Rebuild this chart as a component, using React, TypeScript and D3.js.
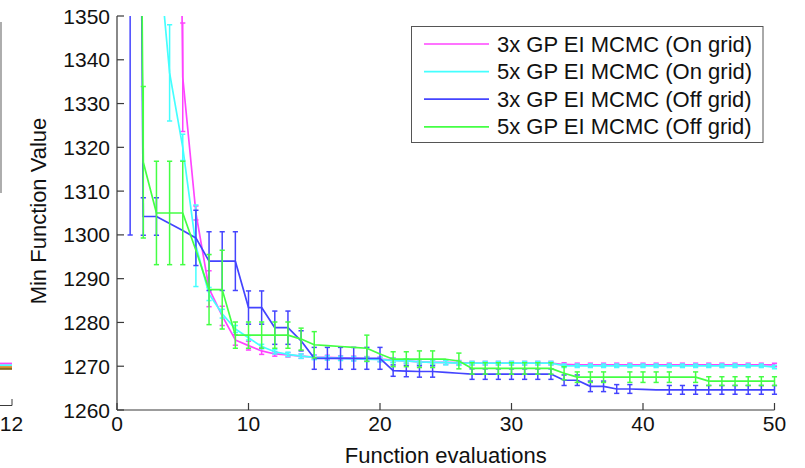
import React from 'react';
import * as d3 from 'd3';

const evals = [
  1, 2, 3, 4, 5, 6, 7, 8, 9, 10, 11, 12, 13, 14, 15, 16, 17, 18, 19, 20,
  21, 22, 23, 24, 25, 26, 27, 28, 29, 30, 31, 32, 33, 34, 35, 36, 37, 38, 39, 40,
  41, 42, 43, 44, 45, 46, 47, 48, 49, 50,
];
const xTicks = [0, 10, 20, 30, 40, 50];
const yTicks = [1260, 1270, 1280, 1290, 1300, 1310, 1320, 1330, 1340, 1350];

const seriesNames = [
  '3x GP EI MCMC (On grid)',
  '5x GP EI MCMC (On grid)',
  '3x GP EI MCMC (Off grid)',
  '5x GP EI MCMC (Off grid)',
];
const seriesColors = ['#ff44ff', '#44ffff', '#4444ff', '#44ff44'];

const magentaMean = [
  1640, 1630, 1620, 1600, 1336, 1305, 1287.7, 1281.5, 1276, 1274.7,
  1273.5, 1272.8, 1272.6, 1272.3, 1272.1, 1272.0, 1271.9, 1271.8, 1271.7, 1271.6,
  1271.4, 1271.2, 1271.0, 1270.9, 1270.9, 1270.8, 1270.7, 1270.7, 1270.7, 1270.7,
  1270.7, 1270.7, 1270.7, 1270.4, 1270.3, 1270.3, 1270.3, 1270.3, 1270.3, 1270.3,
  1270.3, 1270.3, 1270.3, 1270.3, 1270.3, 1270.3, 1270.3, 1270.3, 1270.3, 1270.3,
];
const magentaErr = [
  20, 20, 20, 20, 12.4, 1.6, 4.1, 2.2, 1.2, 1.0,
  0.8, 0.5, 0.5, 0.5, 0.5, 0.5, 0.5, 0.5, 0.5, 0.5,
  0.5, 0.5, 0.5, 0.5, 0.5, 0.5, 0.4, 0.4, 0.4, 0.4,
  0.4, 0.4, 0.4, 0.4, 0.4, 0.4, 0.4, 0.4, 0.4, 0.4,
  0.4, 0.4, 0.4, 0.4, 0.4, 0.4, 0.4, 0.4, 0.4, 0.4,
];

const cyanMean = [
  1650, 1560, 1370, 1337, 1320, 1297.5, 1286.5, 1282, 1278.5, 1276.5,
  1274.5, 1273.3, 1272.7, 1272.3, 1272.0, 1271.9, 1271.8, 1271.7, 1271.6, 1271.5,
  1271.3, 1271.2, 1271.0, 1270.9, 1270.8, 1270.7, 1270.7, 1270.7, 1270.7, 1270.7,
  1270.7, 1270.7, 1270.7, 1270.1, 1270.1, 1270.1, 1270.1, 1270.1, 1270.1, 1270.1,
  1270.1, 1270.1, 1270.1, 1270.1, 1270.1, 1270.1, 1270.1, 1270.1, 1270.1, 1269.8,
];
const cyanErr = [
  30, 30, 15, 11, 3, 9.3, 1.5, 1.0, 0.8, 0.5,
  0.5, 0.5, 0.5, 0.5, 0.5, 0.5, 0.5, 0.5, 0.5, 0.5,
  0.5, 0.5, 0.5, 0.5, 0.5, 0.5, 0.4, 0.4, 0.4, 0.4,
  0.4, 0.4, 0.4, 0.4, 0.4, 0.4, 0.4, 0.4, 0.4, 0.4,
  0.4, 0.4, 0.4, 0.4, 0.4, 0.4, 0.4, 0.4, 0.4, 0.4,
];

const blueMean = [
  1700, 1304.2, 1304.2, 1302.6, 1301.0, 1299.3, 1294, 1294, 1294, 1283.4,
  1283.4, 1278.8, 1278.8, 1275.8, 1271.8, 1271.8, 1271.8, 1271.8, 1271.8, 1271.8,
  1269.0, 1268.9, 1268.8, 1268.8, 1268.6, 1268.4, 1268.2, 1268.2, 1268.2, 1268.2,
  1268.2, 1268.2, 1268.2, 1266.8, 1266.8, 1265.4, 1265.4, 1264.8, 1264.8, 1264.7,
  1264.6, 1264.6, 1264.6, 1264.6, 1264.6, 1264.6, 1264.6, 1264.6, 1264.6, 1264.6,
];
const blueErr = [
  400, 4.3, 4.3, 0, 0, 6.3, 6.7, 6.7, 6.7, 3.8,
  3.8, 3.8, 3.8, 2.3, 2.5, 2.5, 2.5, 2.5, 2.5, 2.5,
  1.3, 1.3, 1.3, 1.3, 0, 0, 1.2, 1.2, 1.2, 1.2,
  1.2, 1.2, 1.2, 1.2, 1.2, 1.2, 1.2, 1.0, 1.0, 0,
  0, 1.0, 1.0, 1.0, 1.0, 1.0, 1.0, 1.0, 1.0, 1.0,
];

const greenMean = [
  1700, 1316.6, 1305, 1305, 1305, 1296.5, 1287.5, 1287.5, 1277.1, 1277.1,
  1277.1, 1277.1, 1277.1, 1276.2, 1274.9, 1274.7, 1274.5, 1274.3, 1274.1, 1272.8,
  1271.6, 1271.6, 1271.6, 1271.6, 1271.6, 1271.2, 1269.5, 1269.5, 1269.5, 1269.5,
  1269.5, 1269.5, 1269.5, 1268.4, 1267.5, 1267.5, 1267.5, 1267.5, 1267.5, 1267.5,
  1267.5, 1267.5, 1267.5, 1267.5, 1266.6, 1266.6, 1266.6, 1266.6, 1266.6, 1266.6,
];
const greenErr = [
  200, 17.3, 11.8, 11.8, 11.8, 0, 8, 9, 3, 3,
  3, 3, 3, 2.5, 3, 0, 0, 0, 3, 0,
  1.7, 1.7, 1.9, 1.9, 0, 1.8, 1.3, 1.3, 1.3, 1.3,
  1.3, 1.3, 1.3, 1.5, 1.2, 1.2, 1.2, 0, 1.2, 1.2,
  1.2, 1.2, 0, 1.2, 1.0, 1.0, 1.0, 1.0, 1.0, 1.0,
];

// Fragment of the neighbouring chart cut off at the left edge
const leftChartValues = [1270.6, 1270.2, 1269.8, 1269.4];
const leftChartColors = ['#ff44ff', '#44ffff', '#e09030', '#8a6a20'];
const leftChartTick = '12';

const FONT = '"Liberation Sans", Arial, Helvetica, sans-serif';

export default function App() {
  const W = 805;
  const H = 468;
  const x0 = 117;
  const x1 = 774.5;
  const yTop = 16;
  const yBot = 410;
  const x = d3.scaleLinear().domain([0, 50]).range([x0, x1]);
  const y = d3.scaleLinear().domain([1260, 1350]).range([yBot, yTop]);

  const series = [
    { mean: magentaMean, err: magentaErr },
    { mean: cyanMean, err: cyanErr },
    { mean: blueMean, err: blueErr },
    { mean: greenMean, err: greenErr },
  ];

  const line = d3
    .line<number>()
    .x((_, i) => x(evals[i]))
    .y((d) => y(d));

  const axisColor = '#3a3a3a';
  const capW = 2.6;
  const tickLen = 7;

  return (
    <svg
      width={W}
      height={H}
      viewBox={`0 0 ${W} ${H}`}
      style={{ position: 'absolute', left: 0, top: 0, background: '#fff' }}
      fontFamily={FONT}
    >
      <defs>
        <clipPath id="plotClip">
          <rect x={x0} y={yTop} width={x1 - x0 + 3} height={yBot - yTop} />
        </clipPath>
      </defs>

      {/* left neighbouring chart fragment */}
      <line x1={1} x2={1} y1={22} y2={193} stroke="#777" strokeWidth={1.2} />
      {leftChartValues.map((v, i) => (
        <line key={i} x1={0} x2={12} y1={y(v)} y2={y(v)} stroke={leftChartColors[i]} strokeWidth={2} />
      ))}
      <path d={`M0,405.5 H12 V399`} fill="none" stroke={axisColor} strokeWidth={1} />
      <text x={11.5} y={431} fontSize={21} textAnchor="middle" fill="#111">
        {leftChartTick}
      </text>

      {/* series */}
      <g clipPath="url(#plotClip)">
        {series.map((s, si) => (
          <g key={si} stroke={seriesColors[si]} fill="none" strokeWidth={1.7}>
            <path d={line(s.mean) || ''} strokeLinejoin="round" />
            {s.mean.map((m, i) => {
              const e = s.err[i];
              if (e <= 0) return null;
              const cx = x(evals[i]);
              const ya = y(m + e);
              const yb = y(m - e);
              return (
                <g key={i} strokeWidth={1.5}>
                  <line x1={cx} x2={cx} y1={ya} y2={yb} />
                  <line x1={cx - capW} x2={cx + capW} y1={ya} y2={ya} />
                  <line x1={cx - capW} x2={cx + capW} y1={yb} y2={yb} />
                </g>
              );
            })}
          </g>
        ))}
      </g>

      {/* axes */}
      <line x1={x0} x2={x0} y1={yTop} y2={yBot} stroke={axisColor} strokeWidth={1.2} />
      <line x1={x0} x2={x1} y1={yBot} y2={yBot} stroke={axisColor} strokeWidth={1.2} />
      {yTicks.map((t) => (
        <g key={t}>
          <line x1={x0} x2={x0 + tickLen} y1={y(t)} y2={y(t)} stroke={axisColor} strokeWidth={1.2} />
          <text x={x0 - 7} y={y(t) + 7.5} fontSize={21} textAnchor="end" fill="#111">
            {t}
          </text>
        </g>
      ))}
      {xTicks.map((t) => (
        <g key={t}>
          <line x1={x(t)} x2={x(t)} y1={yBot} y2={yBot - tickLen} stroke={axisColor} strokeWidth={1.2} />
          <text x={x(t)} y={431} fontSize={21} textAnchor="middle" fill="#111">
            {t}
          </text>
        </g>
      ))}
      <text x={(x0 + x1) / 2} y={463} fontSize={22} textAnchor="middle" fill="#111">
        Function evaluations
      </text>
      <text
        transform={`translate(46,211) rotate(-90)`}
        fontSize={22}
        textAnchor="middle"
        fill="#111"
      >
        Min Function Value
      </text>

      {/* legend */}
      <rect x={411.5} y={26.5} width={351.5} height={116} fill="#fff" stroke="#555" strokeWidth={1} />
      {seriesNames.map((n, i) => {
        const cy = 44 + i * 27.6;
        return (
          <g key={n}>
            <line x1={424} x2={489} y1={cy} y2={cy} stroke={seriesColors[i]} strokeWidth={1.7} />
            <text x={497} y={cy + 7.5} fontSize={22} fill="#111">
              {n}
            </text>
          </g>
        );
      })}
    </svg>
  );
}
